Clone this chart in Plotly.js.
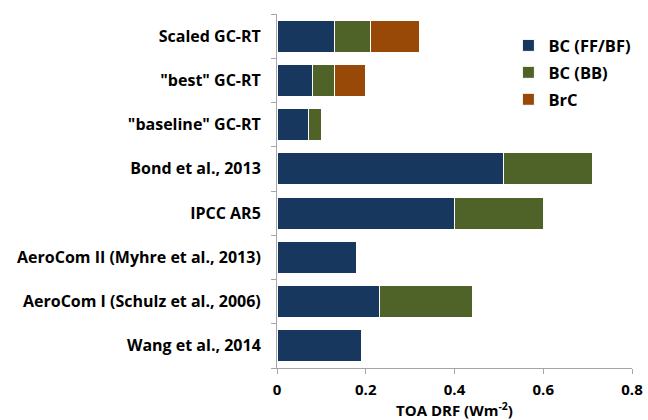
<!DOCTYPE html>
<html>
<head>
<meta charset="utf-8">
<script src="https://cdn.plot.ly/plotly-3.0.1.min.js"></script>
<style>html,body{margin:0;padding:0;background:#fff;}#chart{width:648px;height:420px;}</style>
</head>
<body>
<div id="chart"></div>
<script>
const categories = [
  "Wang et al., 2014",
  "AeroCom I (Schulz et al., 2006)",
  "AeroCom II (Myhre et al., 2013)",
  "IPCC AR5",
  "Bond et al., 2013",
  "\"baseline\" GC-RT",
  "\"best\" GC-RT",
  "Scaled GC-RT"
];
const bcFFBF = [0.19, 0.23, 0.18, 0.40, 0.51, 0.07, 0.08, 0.13];
const bcBB   = [0.00, 0.21, 0.00, 0.20, 0.20, 0.03, 0.05, 0.08];
const brc    = [0.00, 0.00, 0.00, 0.00, 0.00, 0.00, 0.07, 0.11];
const seriesNames = ["BC (FF/BF)", "BC (BB)", "BrC"];
const xTicks = [0, 0.2, 0.4, 0.6, 0.8];

const colors = ["#17375E", "#4F6228", "#984807"];
const fontFam = "Open Sans, Liberation Sans, sans-serif";

const traces = [bcFFBF, bcBB, brc].map((vals, i) => ({
  type: "bar",
  orientation: "h",
  name: seriesNames[i],
  legendgroup: "g" + i,
  y: categories,
  x: vals,
  marker: {color: colors[i], line: {color: "#ffffff", width: 1}},
  hoverinfo: "x+name"
}));

const layout = {
  width: 648, height: 420,
  margin: {l: 277, r: 15, t: 14, b: 52},
  barmode: "stack",
  bargap: 0.28,
  paper_bgcolor: "#fff",
  plot_bgcolor: "#fff",
  font: {family: fontFam, color: "#000"},
  xaxis: {
    range: [0, 0.8],
    tickvals: xTicks,
    ticktext: xTicks.map(v => v === 0 ? "0" : v.toFixed(1)),
    showgrid: false,
    zeroline: false,
    showline: true,
    linecolor: "#a6a6a6",
    linewidth: 1,
    ticks: "outside",
    tickcolor: "#a6a6a6",
    ticklen: 5,
    ticklabelstandoff: 3,
    tickfont: {size: 15, family: fontFam, weight: "bold"},
    title: {text: "<b>TOA DRF (Wm<sup>-2</sup>)</b>", font: {size: 15, family: fontFam}}
  },
  yaxis: {
    type: "category",
    categoryorder: "array",
    categoryarray: categories,
    showgrid: false,
    zeroline: false,
    showline: true,
    linecolor: "#a6a6a6",
    linewidth: 1,
    ticks: "outside",
    tickson: "boundaries",
    tickcolor: "#a6a6a6",
    ticklen: 5,
    ticklabelstandoff: 12,
    tickfont: {size: 16, family: fontFam, weight: "bold"}
  },
  legend: {
    x: 0.65, y: 0.96, xanchor: "left", yanchor: "top",
    traceorder: "grouped",
    tracegroupgap: 2.5,
    font: {size: 16.5, family: fontFam, weight: "bold"},
    bgcolor: "rgba(0,0,0,0)",
    itemwidth: 30
  },
  showlegend: true
};

Plotly.newPlot("chart", traces, layout, {displayModeBar: false, staticPlot: true});
</script>
</body>
</html>
